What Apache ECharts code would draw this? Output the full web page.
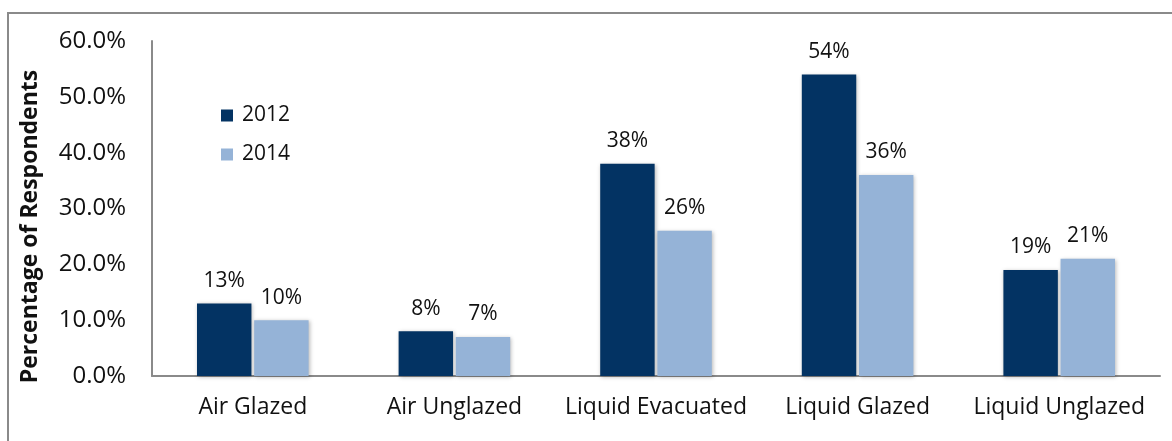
<!DOCTYPE html>
<html>
<head>
<meta charset="utf-8">
<style>
  html, body { margin: 0; padding: 0; background: #fff; }
  #chart { width: 1172px; height: 441px; }
</style>
<script src="https://cdn.jsdelivr.net/npm/echarts@6/dist/echarts.min.js"></script>
</head>
<body>
<div id="chart"></div>
<script>
// Collector types surveyed
const categories = ['Air Glazed', 'Air Unglazed', 'Liquid Evacuated', 'Liquid Glazed', 'Liquid Unglazed'];
// Share of respondents (%) per survey year
const values2012 = [13, 8, 38, 54, 19];
const values2014 = [10, 7, 26, 36, 21];
// Y axis ticks (%)
const yTicks = [0, 10, 20, 30, 40, 50, 60];

const FONT = '"Open Sans", sans-serif';

const chart = echarts.init(document.getElementById('chart'));

const barStyle = (color) => ({
  color: color,
  shadowBlur: 4,
  shadowColor: 'rgba(0,0,0,0.28)',
  shadowOffsetX: 1,
  shadowOffsetY: 1
});

const labelStyle = {
  show: true,
  position: 'top',
  distance: 12,
  color: '#111',
  fontFamily: FONT,
  fontSize: 21,
  formatter: (p) => Math.round(p.value) + '%'
};

chart.setOption({
  animation: false,
  backgroundColor: '#fff',
  graphic: [{
    type: 'rect',
    shape: { x: 8, y: 13, width: 1180, height: 450 },
    style: { fill: 'none', stroke: '#8a8a8a', lineWidth: 2 },
    silent: true,
    z: 0
  }],
  grid: { left: 152, right: 12, top: 41, bottom: 65, containLabel: false },
  legend: {
    orient: 'vertical',
    left: 216,
    top: 100,
    itemWidth: 12,
    itemHeight: 12,
    itemGap: 18,
    icon: 'rect',
    textStyle: { fontFamily: FONT, fontSize: 21, color: '#111', padding: [0, 0, 0, 4] },
    data: ['2012', '2014']
  },
  xAxis: {
    type: 'category',
    data: categories,
    axisLine: { lineStyle: { color: '#8a8a8a', width: 2 } },
    axisTick: { show: false },
    axisLabel: { color: '#111', fontFamily: FONT, fontSize: 23, margin: 20, interval: 0 }
  },
  yAxis: {
    type: 'value',
    min: yTicks[0],
    max: yTicks[yTicks.length - 1],
    interval: yTicks[1] - yTicks[0],
    name: 'Percentage of Respondents',
    nameLocation: 'middle',
    nameGap: 110,
    nameTextStyle: {
      fontFamily: FONT, fontSize: 23, fontWeight: 'bold', color: '#111',
      padding: [0, 36, 0, 0]
    },
    axisLine: { show: true, lineStyle: { color: '#8a8a8a', width: 2 } },
    axisTick: { show: false },
    splitLine: { show: false },
    axisLabel: {
      color: '#111', fontFamily: FONT, fontSize: 24, margin: 26,
      formatter: (v) => v.toFixed(1) + '%'
    }
  },
  series: [
    {
      name: '2012', type: 'bar', data: values2012,
      barWidth: '27%', barGap: '5%',
      itemStyle: barStyle('#033363'),
      label: labelStyle
    },
    {
      name: '2014', type: 'bar', data: values2014,
      barWidth: '27%',
      itemStyle: barStyle('#95b3d7'),
      label: labelStyle
    }
  ]
});
</script>
</body>
</html>
